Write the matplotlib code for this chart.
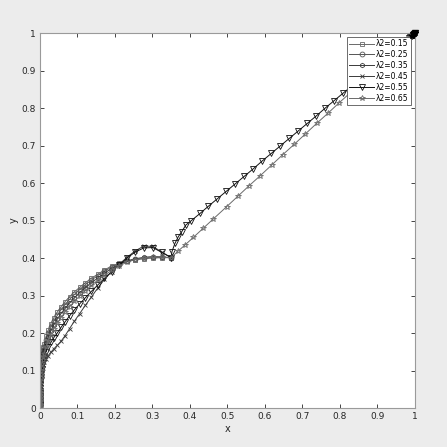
import matplotlib
matplotlib.use("Agg")
import matplotlib.pyplot as plt

# общая сетка по x для участка 0..0.35 (у нуля точки очень густые)
x_left = [0, 1e-7, 5e-7, 2e-6, 5e-6, 1e-5, 2e-5, 4e-5, 7e-5, 0.0001,
          0.00015, 0.0002, 0.0003, 0.0005, 0.0007, 0.001, 0.0015, 0.002, 0.003, 0.004,
          0.0055, 0.007, 0.009, 0.011, 0.016, 0.022, 0.029, 0.037, 0.046, 0.056,
          0.067, 0.079, 0.092, 0.106, 0.121, 0.137, 0.154, 0.172, 0.191, 0.211,
          0.232, 0.254, 0.277, 0.301, 0.325, 0.35]

y_015 = [0, 0.007, 0.011, 0.016, 0.020, 0.025, 0.030, 0.036, 0.042, 0.047,
         0.052, 0.057, 0.063, 0.073, 0.080, 0.089, 0.099, 0.107, 0.120, 0.130,
         0.142, 0.152, 0.163, 0.172, 0.191, 0.208, 0.225, 0.241, 0.256, 0.270,
         0.284, 0.297, 0.310, 0.322, 0.334, 0.346, 0.357, 0.368, 0.379, 0.386,
         0.391, 0.395, 0.398, 0.400, 0.401, 0.401]
y_025 = [0, 0.006, 0.010, 0.014, 0.018, 0.023, 0.027, 0.033, 0.038, 0.043,
         0.048, 0.052, 0.058, 0.068, 0.075, 0.083, 0.093, 0.101, 0.113, 0.123,
         0.134, 0.144, 0.155, 0.164, 0.182, 0.199, 0.216, 0.232, 0.247, 0.262,
         0.276, 0.290, 0.303, 0.316, 0.329, 0.341, 0.353, 0.365, 0.376, 0.385,
         0.392, 0.397, 0.400, 0.402, 0.402, 0.401]
y_035 = [0, 0.006, 0.009, 0.013, 0.017, 0.021, 0.025, 0.030, 0.035, 0.039,
         0.044, 0.048, 0.054, 0.063, 0.070, 0.078, 0.087, 0.095, 0.107, 0.116,
         0.127, 0.136, 0.146, 0.155, 0.173, 0.190, 0.206, 0.222, 0.237, 0.252,
         0.266, 0.280, 0.294, 0.308, 0.321, 0.334, 0.347, 0.360, 0.372, 0.383,
         0.392, 0.398, 0.402, 0.404, 0.403, 0.401]
y_045 = [0, 0.004, 0.006, 0.009, 0.012, 0.015, 0.018, 0.022, 0.026, 0.029,
         0.033, 0.036, 0.041, 0.048, 0.054, 0.060, 0.068, 0.074, 0.084, 0.092,
         0.101, 0.108, 0.116, 0.123, 0.131, 0.140, 0.149, 0.158, 0.167, 0.178,
         0.193, 0.212, 0.232, 0.252, 0.274, 0.296, 0.320, 0.343, 0.364, 0.383,
         0.402, 0.419, 0.432, 0.431, 0.416, 0.401]
y_055 = [0, 0.005, 0.008, 0.011, 0.014, 0.018, 0.021, 0.026, 0.030, 0.033,
         0.037, 0.041, 0.046, 0.054, 0.061, 0.067, 0.076, 0.083, 0.094, 0.103,
         0.113, 0.121, 0.130, 0.138, 0.150, 0.163, 0.175, 0.188, 0.200, 0.215,
         0.230, 0.246, 0.262, 0.278, 0.294, 0.311, 0.328, 0.346, 0.363, 0.381,
         0.400, 0.416, 0.427, 0.428, 0.415, 0.401]
y_065 = [0, 0.006, 0.009, 0.012, 0.015, 0.019, 0.023, 0.027, 0.032, 0.035,
         0.040, 0.043, 0.049, 0.057, 0.064, 0.071, 0.080, 0.088, 0.099, 0.108,
         0.118, 0.127, 0.137, 0.145, 0.163, 0.179, 0.195, 0.211, 0.226, 0.241,
         0.256, 0.270, 0.285, 0.299, 0.313, 0.327, 0.341, 0.354, 0.367, 0.379,
         0.389, 0.396, 0.400, 0.402, 0.402, 0.401]

# продолжение после x=0.35 для λ2=0.55 и λ2=0.65
x_055_r = [0.352, 0.36, 0.369, 0.378, 0.389, 0.404, 0.427, 0.449, 0.473, 0.497,
           0.521, 0.545, 0.569, 0.593, 0.617, 0.641, 0.665, 0.689, 0.713, 0.737,
           0.761, 0.785, 0.809, 0.833, 0.857, 0.881, 0.905, 0.929, 0.953, 0.97,
           0.978, 0.984, 0.988, 0.992, 0.995, 0.998, 1.0]
y_055_r = [0.417, 0.439, 0.457, 0.470, 0.488, 0.500, 0.519, 0.538, 0.558, 0.578,
           0.598, 0.618, 0.638, 0.659, 0.679, 0.699, 0.719, 0.739, 0.759, 0.779,
           0.800, 0.820, 0.840, 0.860, 0.880, 0.900, 0.920, 0.940, 0.961, 0.975,
           0.982, 0.987, 0.990, 0.993, 0.996, 0.998, 1.0]
x_065_r = [0.369, 0.387, 0.409, 0.435, 0.462, 0.498, 0.528, 0.558, 0.588, 0.618,
           0.648, 0.678, 0.708, 0.738, 0.768, 0.798, 0.828, 0.858, 0.888, 0.918,
           0.948, 0.965, 0.975, 0.982, 0.988, 0.993, 0.997, 1.0]
y_065_r = [0.419, 0.435, 0.455, 0.479, 0.504, 0.537, 0.565, 0.593, 0.620, 0.648,
           0.676, 0.703, 0.731, 0.759, 0.786, 0.814, 0.841, 0.869, 0.897, 0.924,
           0.952, 0.968, 0.977, 0.983, 0.989, 0.993, 0.997, 1.0]

labels = ['λ2=0.15', 'λ2=0.25', 'λ2=0.35', 'λ2=0.45', 'λ2=0.55', 'λ2=0.65']
markers = ['s', 'o', 'h', 'x', 'v', '*']
colors = ['#6a6a6a', '#555555', '#3a3a3a', '#3a3a3a', '#111111', '#6a6a6a']
msizes = [3.5, 3.5, 3.2, 3.0, 4.0, 4.0]

series = [
    (x_left, y_015),
    (x_left, y_025),
    (x_left, y_035),
    (x_left, y_045),
    (x_left + x_055_r, y_055 + y_055_r),
    (x_left + x_065_r, y_065 + y_065_r),
]

fig = plt.figure(figsize=(4.47, 4.47), dpi=100, facecolor='#ececec')
ax = fig.add_axes([0.0895, 0.0872, 0.8385, 0.8388])
ax.set_facecolor('white')

for (xs, ys), lab, m, c, ms in zip(series, labels, markers, colors, msizes):
    ax.plot(xs, ys, color=c, linewidth=0.7, marker=m, markersize=ms,
            markerfacecolor='none', markeredgecolor=c, markeredgewidth=0.6,
            label=lab)

# густые точки у (1,1) видны поверх угла легенды
for (xs, ys), m in zip(series[4:], markers[4:]):
    ax.plot(xs[-3:], ys[-3:], color='black', linewidth=1.5, marker=m,
            markersize=4, markerfacecolor='black', markeredgecolor='black',
            zorder=6, clip_on=False)

ax.set_xlim(0, 1)
ax.set_ylim(0, 1)
ax.set_xticks([i / 10 for i in range(11)])
ax.set_yticks([i / 10 for i in range(11)])
ax.set_xticklabels(['0', '0.1', '0.2', '0.3', '0.4', '0.5', '0.6', '0.7', '0.8', '0.9', '1'])
ax.set_yticklabels(['0', '0.1', '0.2', '0.3', '0.4', '0.5', '0.6', '0.7', '0.8', '0.9', '1'])
ax.tick_params(direction='in', length=3, width=0.6, labelsize=6.5,
               colors='#262626', top=True, right=True, pad=3)
for sp in ax.spines.values():
    sp.set_color('#9a9a9a')
    sp.set_linewidth(0.8)

ax.set_xlabel('x', fontsize=7, color='#262626', labelpad=2)
ax.set_ylabel('y', fontsize=7, color='#262626', labelpad=2)

leg = ax.legend(loc='upper right', fontsize=5.5, handlelength=3.2,
                borderaxespad=0.5, labelspacing=0.25, borderpad=0.3,
                handletextpad=0.3, fancybox=False, framealpha=1)
leg.get_frame().set_edgecolor('#555555')
leg.get_frame().set_linewidth(0.6)

fig.savefig('out.png', dpi=100, facecolor=fig.get_facecolor())
